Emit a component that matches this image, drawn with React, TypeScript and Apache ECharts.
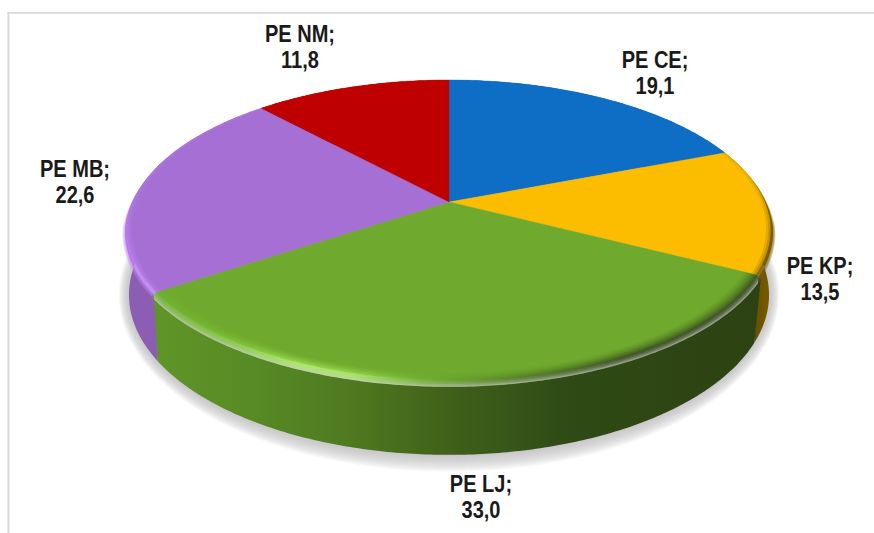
import React, { useEffect, useRef } from "react";
import * as echarts from "echarts";

const categories = ["PE CE", "PE KP", "PE LJ", "PE MB", "PE NM"];
const values = [19.1, 13.5, 33.0, 22.6, 11.8];
const valueLabels = ["19,1", "13,5", "33,0", "22,6", "11,8"];

const topColors = ["#0e6ec5", "#fcbc00", "#6fa92d", "#a66fd3", "#bf0000"];

// label centres, in page pixels
const labelX = [655, 820, 481, 75, 300];
const labelY = [73, 279, 497, 182, 47];

// projection of the tilted disc
const CX = 449;
const TOP_Y = 202;
const A = 316;
const B = 144.8;
const K = 0.1867;
const BOT_Y = 265;
const A2 = 314.4;
const B2 = 154.4;
const BEVEL_DEPTH = 3;
const BEVEL_OUT = 0.014;

type Pt = number[];
function project(theta: number, r: number, bottom = false, depth = 0): Pt {
  const u = r * Math.sin(theta);
  const v = r * Math.cos(theta);
  const w = 1 + K * v;
  if (bottom) return [CX + (A2 * u) / w, BOT_Y - (B2 * v) / w];
  return [CX + (A * u) / w, TOP_Y - (B * v) / w + depth / w];
}

const total = values.reduce((a, b) => a + b, 0);
function sliceAngles(i: number): number[] {
  let start = 0;
  for (let k = 0; k < i; k++) start += values[k];
  return [(start / total) * 2 * Math.PI, ((start + values[i]) / total) * 2 * Math.PI];
}
function steps(a0: number, a1: number): number[] {
  const n = Math.max(8, Math.ceil((a1 - a0) * 90));
  const out: number[] = [];
  for (let j = 0; j <= n; j++) out.push(a0 + ((a1 - a0) * j) / n);
  return out;
}
function arc(a0: number, a1: number, r: number, bottom = false): Pt[] {
  return steps(a0, a1).map((t) => project(t, r, bottom));
}
// outer lip of the bevel: only on the front of the disc
function lip(a0: number, a1: number, t: number): Pt[] {
  return steps(a0, a1).map((th) => {
    const f = Math.min(1, Math.max(0, (0.2 - Math.cos(th)) / 0.35));
    return project(th, 1 + BEVEL_OUT * t * f, false, BEVEL_DEPTH * t * f);
  });
}
const G = (x0: number, y0: number, x1: number, y1: number, stops: [number, string][]) =>
  new echarts.graphic.LinearGradient(
    x0, y0, x1, y1,
    stops.map(([offset, color]) => ({ offset, color })),
    true
  );

function wallFill(i: number): any {
  if (i === 2)
    return G(157, 0, 757, 0, [
      [0, "#5f9528"], [0.15, "#588b25"], [0.32, "#4f7a20"], [0.48, "#406219"],
      [0.6, "#36551a"], [0.68, "#2f4a14"], [1, "#2d4212"],
    ]);
  if (i === 3) return "#8c5eb3";
  if (i === 1) return G(745, 0, 772, 0, [[0, "#5c4600"], [1, "#7c5e00"]]);
  if (i === 0) return "#0a4f8e";
  return "#8a0000";
}
function bevelFill(i: number): any {
  if (i === 2)
    return G(150, 0, 760, 0, [
      [0, "#6db12f"], [0.12, "#7fc63a"], [0.24, "#a8ec5e"], [0.33, "#a4e85a"],
      [0.45, "#70b030"], [0.6, "#4c7a1e"], [0.78, "#2f4714"], [1, "#2f4714"],
    ]);
  if (i === 3) return G(0, 190, 0, 250, [[0, "rgba(192,130,248,0.55)"], [1, "#c082f8"]]);
  if (i === 1) return G(0, 175, 0, 235, [[0, "rgba(122,92,0,0.3)"], [1, "#7a5c00"]]);
  return null;
}

const renderShadow = (params: any) => {
  if (params.dataIndex !== 0) return { type: "group", children: [] };
  const layers = [];
  for (let g = 17; g >= 0; g -= 1) {
    const pts = arc(0, 2 * Math.PI, 1, true).map(([x, y]) => {
      const sx = CX + (x - CX) * (1 + (0.6 * g) / 320);
      const sy = 295 + (y - 295) * (1 + g / 160);
      return [sx, sy];
    });
    layers.push({
      type: "polygon",
      shape: { points: pts },
      style: { fill: "rgba(190,190,190,0.075)" },
    });
  }
  return { type: "group", children: layers };
};

const renderWall = (params: any) => {
  const i = params.dataIndex;
  const [a0, a1] = sliceAngles(i);
  const pts = lip(a0, a1, i === 2 ? 1 : 0.5).concat(arc(a0, a1, 1, true).reverse());
  return { type: "polygon", shape: { points: pts }, style: { fill: wallFill(i) } };
};

const innerRadii = [0.965, 0.972, 0.979, 0.986, 0.993];
const innerAlpha = [0.06, 0.1, 0.15, 0.2, 0.3];

const renderTop = (params: any) => {
  const i = params.dataIndex;
  const [a0, a1] = sliceAngles(i);
  const face = [project(0, 0)].concat(arc(a0, a1, 1));
  const children: any[] = [
    {
      type: "polygon",
      shape: { points: face },
      style: { fill: topColors[i], stroke: topColors[i], lineWidth: 0.4 },
    },
  ];
  const bevel = bevelFill(i);
  if (bevel) {
    innerRadii.forEach((r, j) => {
      if (i !== 2 && r < 0.985) return;
      children.push({
        type: "polygon",
        shape: { points: arc(a0, a1, r).concat(arc(a0, a1, 1).reverse()) },
        style: { fill: bevel, opacity: innerAlpha[j] },
      });
    });
    for (const t of [1, 0.8, 0.6, 0.4, 0.2]) {
      children.push({
        type: "polygon",
        shape: { points: arc(a0, a1, 1).concat(lip(a0, a1, t).reverse()) },
        style: { fill: bevel, opacity: 0.35 },
      });
    }
  }
  return { type: "group", children };
};

const renderLabel = (params: any) => {
  const i = params.dataIndex;
  return {
    type: "text",
    x: labelX[i],
    y: labelY[i],
    scaleX: 0.87,
    style: {
      text: `${categories[i]};\n${valueLabels[i]}`,
      x: 0,
      y: 0,
      align: "center",
      verticalAlign: "middle",
      fontFamily: "'Liberation Sans', Arial, sans-serif",
      fontSize: 23,
      fontWeight: "bold",
      lineHeight: 27,
      fill: "#1a1a1a",
    },
  };
};

export default function App() {
  const ref = useRef<HTMLDivElement>(null);
  useEffect(() => {
    const chart = echarts.init(ref.current!, undefined, { renderer: "svg" });
    const data = categories.map((name, i) => ({ name, value: values[i] }));
    const base = { type: "custom", coordinateSystem: "none", silent: true, data, clip: false };
    chart.setOption({
      animation: false,
      backgroundColor: "#ffffff",
      graphic: [
        { type: "rect", shape: { x: 7.5, y: 12, width: 867, height: 1.7 }, style: { fill: "#d9d9d9" }, silent: true },
        { type: "rect", shape: { x: 7.5, y: 12, width: 2, height: 521 }, style: { fill: "#d9d9d9" }, silent: true },
      ],
      series: [
        { ...base, z: 1, renderItem: renderShadow },
        { ...base, z: 2, renderItem: renderWall },
        { ...base, z: 3, renderItem: renderTop },
        { ...base, z: 4, renderItem: renderLabel },
      ],
    });
    return () => chart.dispose();
  }, []);
  return (
    <div
      ref={ref}
      style={{ position: "absolute", left: 0, top: 0, width: 874, height: 533 }}
    />
  );
}
